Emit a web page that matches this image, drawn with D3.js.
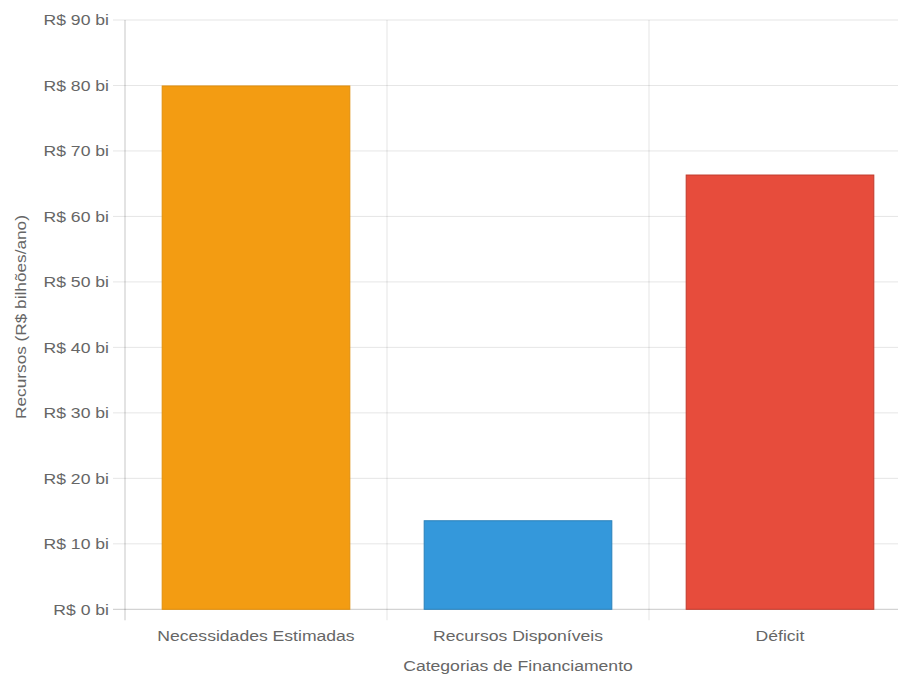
<!DOCTYPE html>
<html>
<head>
<meta charset="utf-8">
<script src="https://cdn.jsdelivr.net/npm/d3@7"></script>
<style>
body { margin: 0; background: #fff; }
svg { display: block; font-family: "Liberation Sans", Arial, sans-serif; }
</style>
</head>
<body>
<svg id="chart" width="898" height="675"></svg>
<script>
// values
var categories = ["Necessidades Estimadas", "Recursos Disponíveis", "Déficit"];
var values = [80, 13.6, 66.4];
var colors = ["#f39c12", "#3498db", "#e74c3c"];
var borders = ["#e08e0b", "#2a80b9", "#c0392b"];
var yTicks = [0, 10, 20, 30, 40, 50, 60, 70, 80, 90];

var svg = d3.select("#chart");
var pLeft = 125, pRight = 911, pTop = 20, pBottom = 609.3;
var fs = 15.5, sx = 1.135;   // text is drawn a bit wide in the original

var x = d3.scaleBand()
  .domain(categories)
  .range([pLeft, pRight]);

var y = d3.scaleLinear()
  .domain([0, 90])
  .range([pBottom, pTop]);

var grid = "rgba(0,0,0,0.1)";

// horizontal grid + tick marks
svg.append("g").selectAll("line")
  .data(yTicks)
  .enter().append("line")
  .attr("x1", pLeft - 12).attr("x2", pRight)
  .attr("y1", d => y(d)).attr("y2", d => y(d))
  .attr("stroke", d => d === 0 ? "rgba(0,0,0,0.22)" : grid)
  .attr("stroke-width", 1);

// vertical grid (between categories)
var vx = [pLeft].concat(categories.map(c => x(c) + x.bandwidth()));
svg.append("g").selectAll("line")
  .data(vx)
  .enter().append("line")
  .attr("x1", d => d).attr("x2", d => d)
  .attr("y1", pTop).attr("y2", pBottom + 11)
  .attr("stroke", (d, i) => i === 0 ? "rgba(0,0,0,0.22)" : grid)
  .attr("stroke-width", 1);

// y tick labels
svg.append("g").selectAll("text")
  .data(yTicks)
  .enter().append("text")
  .attr("transform", d => "translate(" + (pLeft - 16) + "," + y(d) + ") scale(" + sx + ",1)")
  .attr("dy", "0.35em")
  .attr("text-anchor", "end")
  .attr("font-size", fs)
  .attr("fill", "#666")
  .text(d => "R$ " + d + " bi");

// bars
var bw = x.bandwidth() * 0.72;
svg.append("g").selectAll("rect")
  .data(values)
  .enter().append("rect")
  .attr("x", (d, i) => x(categories[i]) + (x.bandwidth() - bw) / 2 + 0.5)
  .attr("y", d => y(d) + 0.5)
  .attr("width", bw - 1)
  .attr("height", d => pBottom - y(d) - 0.5)
  .attr("fill", (d, i) => colors[i])
  .attr("stroke", (d, i) => borders[i])
  .attr("stroke-width", 1);

// category labels
svg.append("g").selectAll("text")
  .data(categories)
  .enter().append("text")
  .attr("transform", d => "translate(" + (x(d) + x.bandwidth() / 2) + ",641) scale(" + sx + ",1)")
  .attr("text-anchor", "middle")
  .attr("font-size", fs)
  .attr("fill", "#666")
  .text(d => d);

// axis titles
svg.append("text")
  .attr("transform", "translate(518,671) scale(" + sx + ",1)")
  .attr("text-anchor", "middle")
  .attr("font-size", fs)
  .attr("fill", "#666")
  .text("Categorias de Financiamento");

svg.append("text")
  .attr("transform", "translate(26,317) rotate(-90) scale(1.23,1)")
  .attr("text-anchor", "middle")
  .attr("font-size", 14)
  .attr("fill", "#666")
  .text("Recursos (R$ bilhões/ano)");
</script>
</body>
</html>
